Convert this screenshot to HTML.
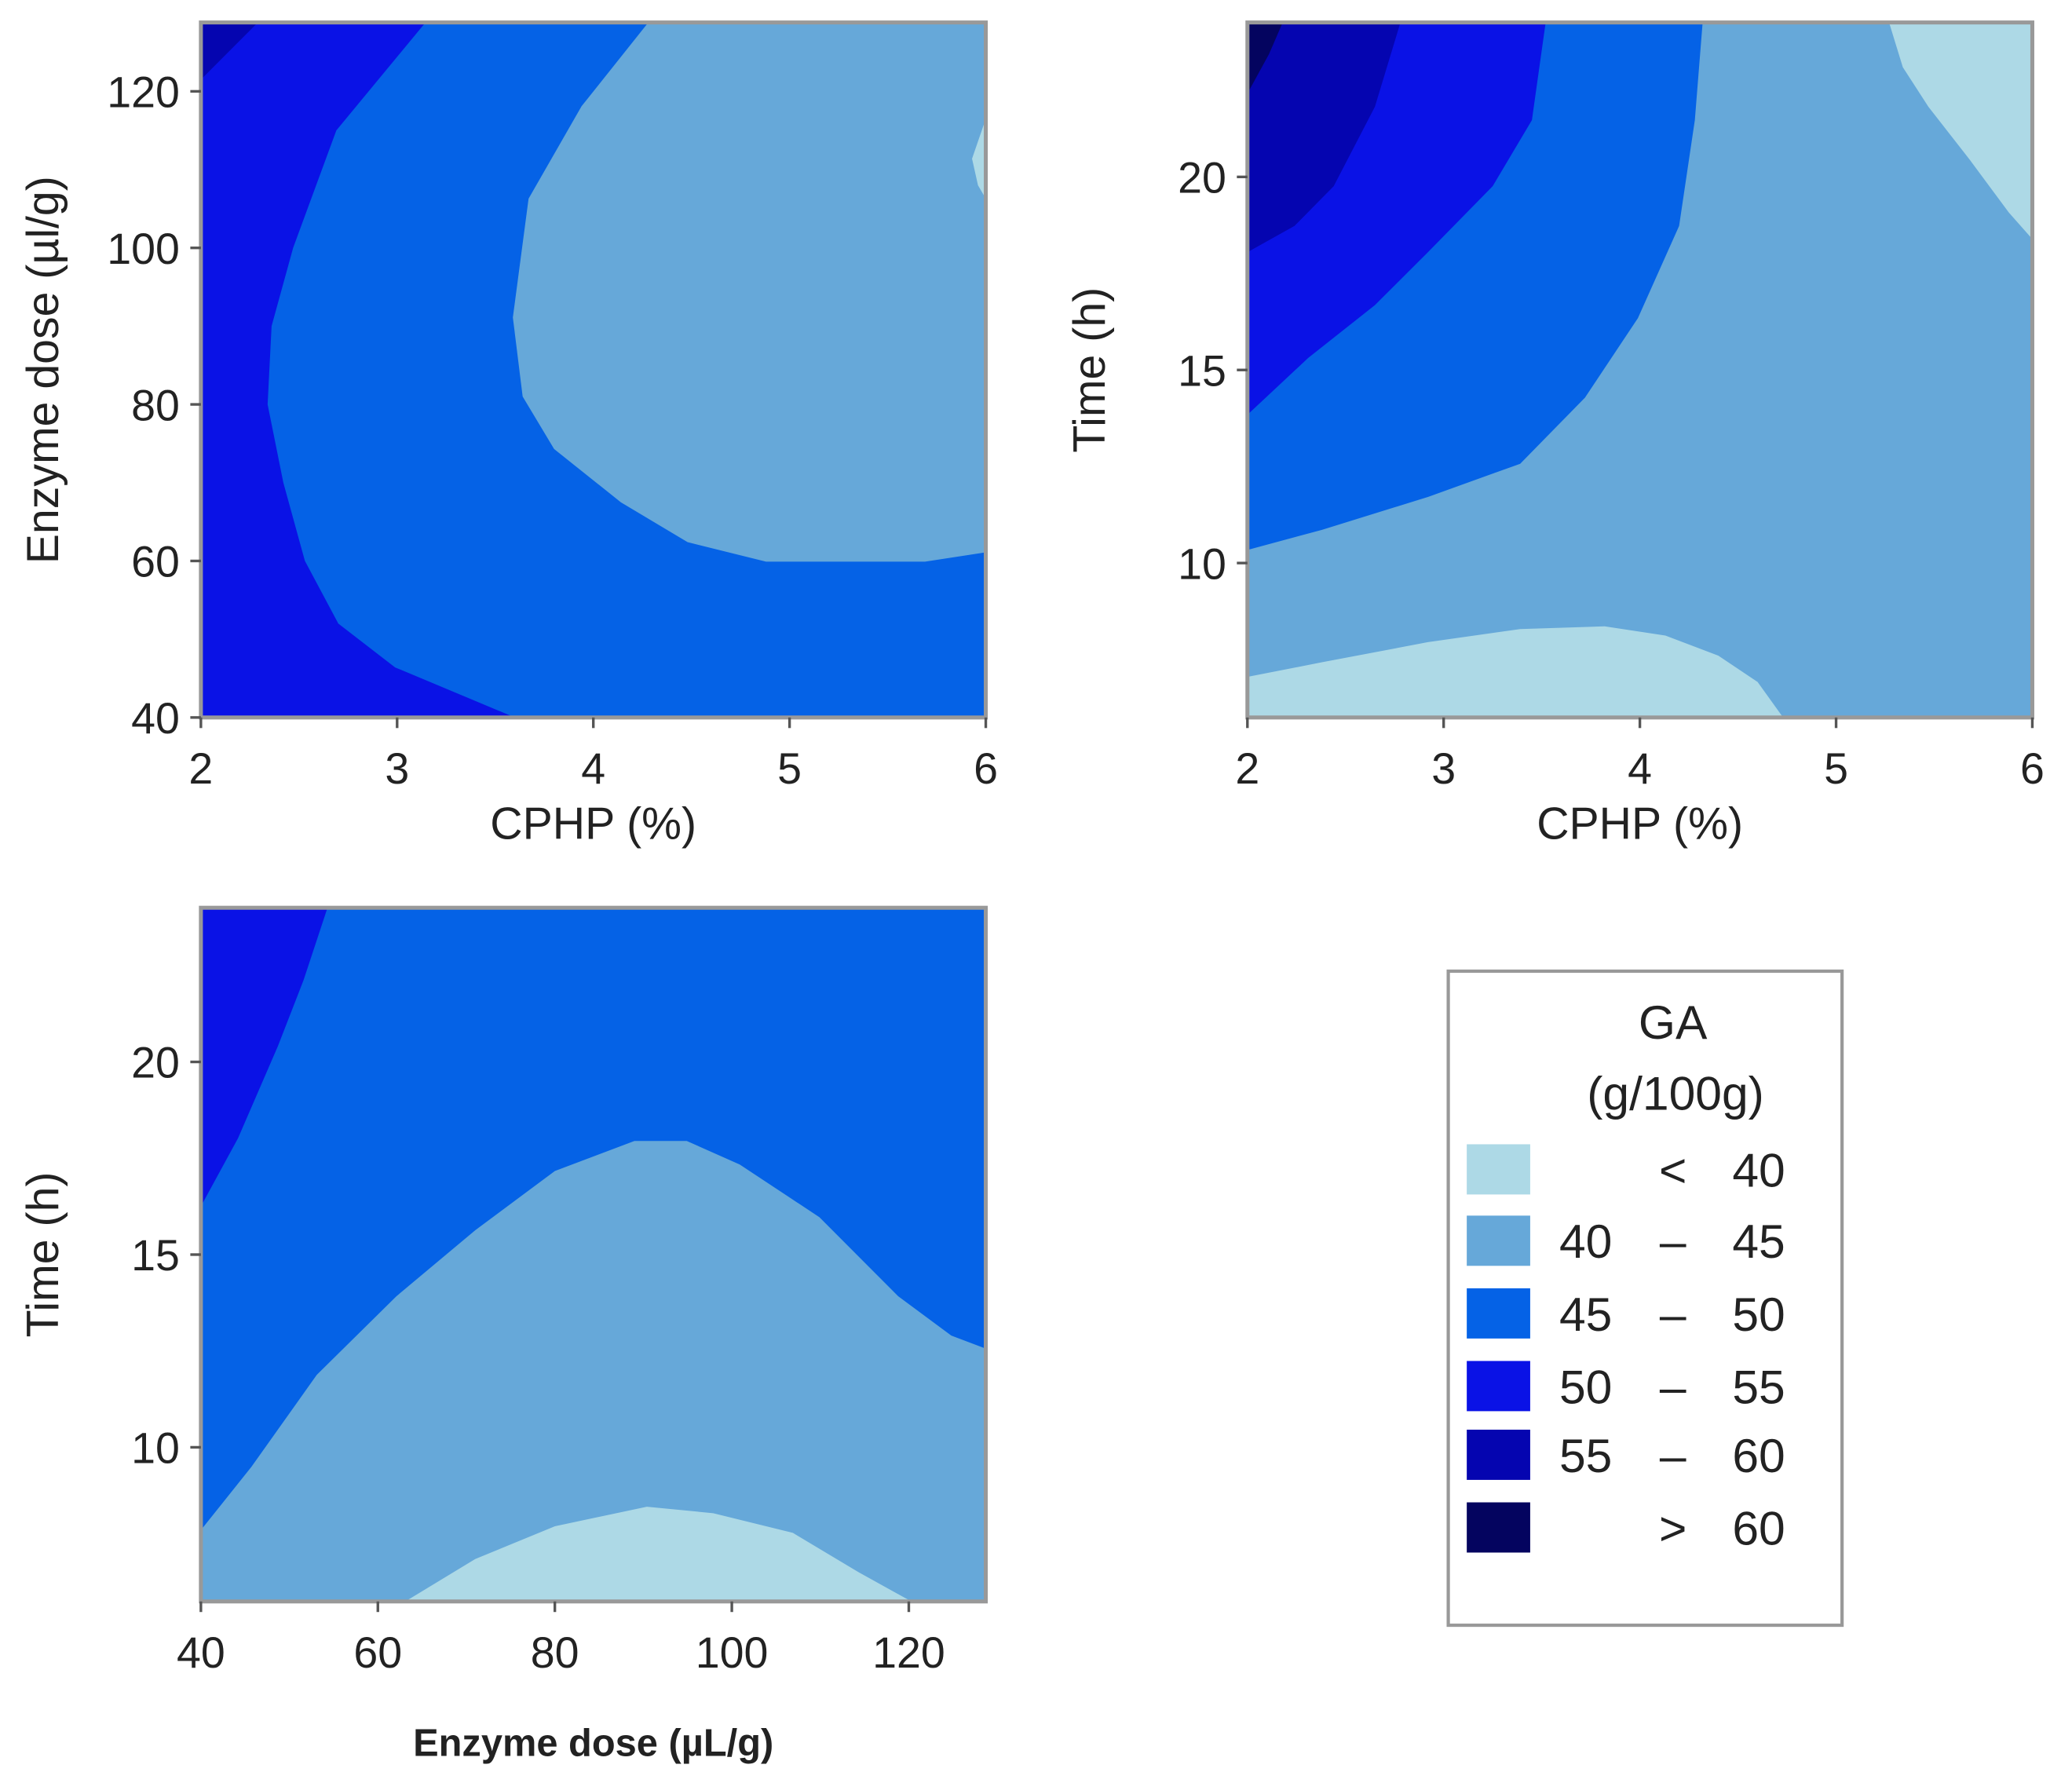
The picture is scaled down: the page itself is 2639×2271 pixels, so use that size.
<!DOCTYPE html>
<html><head><meta charset="utf-8"><style>
html,body{margin:0;padding:0;background:#fff}
svg{display:block}
text{font-family:"Liberation Sans","DejaVu Sans",sans-serif;fill:#222}
</style></head><body>
<svg id="chart" width="2639" height="2271" viewBox="0 0 1568 1349.4" xmlns="http://www.w3.org/2000/svg"></svg>
<script>
// Colors for GA levels
const levelLeft = ["","40","45","50","55",""];
const levelMid = ["<","–","–","–","–",">"];
const levelRight = ["40","45","50","55","60","60"];
const levelColors = ["#add9e6","#66a8d9","#0562e6","#0a12e6","#0505b0","#04045f"];

// Panel 1: CPHP (%) vs Enzyme dose
const p1X = [2,6], p1Y = [40,128.8];
const p1XTicks = [2,3,4,5,6], p1YTicks = [40,60,80,100,120];
const p1Lvl3 = [[2,128.8],[3.145,128.8],[2.69,115],[2.47,100],[2.36,90],[2.34,80],[2.42,70],[2.53,60],[2.7,52],[2.99,46.4],[3.6,40],[2,40]];
const p1Lvl4 = [[2,128.8],[2.29,128.8],[2,121.5]];
const p1Lvl1 = [[4.28,128.8],[3.94,118.1],[3.67,106.3],[3.59,91.1],[3.64,81],[3.8,74.3],[4.14,67.5],[4.48,62.4],[4.88,59.9],[5.69,59.9],[6,61.1],[6,128.8]];
const p1Lvl0 = [[6,116.5],[5.93,111.4],[5.96,108],[6,106.3]];

// Panel 2: CPHP (%) vs Time
const p2X = [2,6], p2Y = [6,24];
const p2XTicks = [2,3,4,5,6], p2YTicks = [10,15,20];
const p2Lvl2 = [[2,10.34],[2.38,10.86],[2.92,11.71],[3.39,12.57],[3.72,14.28],[3.99,16.34],[4.2,18.73],[4.28,21.47],[4.32,24],[2,24]];
const p2Lvl3 = [[2,13.84],[2.31,15.31],[2.65,16.68],[2.92,18.05],[3.25,19.76],[3.45,21.47],[3.52,24],[2,24]];
const p2Lvl4 = [[2,18.05],[2.24,18.73],[2.44,19.76],[2.65,21.82],[2.78,24],[2,24]];
const p2Lvl5 = [[2,22.16],[2.11,23.18],[2.18,24],[2,24]];
const p2Lvl0a = [[2,7.05],[2.38,7.43],[2.92,7.95],[3.39,8.29],[3.82,8.36],[4.13,8.12],[4.4,7.6],[4.6,6.92],[4.73,6],[2,6]];
const p2Lvl0b = [[5.27,24],[5.34,22.84],[5.47,21.82],[5.68,20.45],[5.88,19.08],[6,18.39],[6,24]];

// Panel 3: Enzyme dose vs Time
const p3X = [40,128.7], p3Y = [6,24];
const p3XTicks = [40,60,80,100,120], p3YTicks = [10,15,20];
const p3Lvl3 = [[40,16.25],[44.2,18.02],[48.7,20.41],[51.6,22.12],[54.3,24],[40,24]];
const p3Lvl1 = [[40,7.85],[45.7,9.49],[53.1,11.88],[62.1,13.92],[71,15.63],[80,17.17],[89,17.95],[94.9,17.95],[100.9,17.34],[109.9,15.97],[118.8,13.92],[124.8,12.9],[128.7,12.56],[128.7,6],[40,6]];
const p3Lvl0 = [[63.1,6],[71,7.1],[80,7.95],[90.4,8.46],[97.9,8.29],[106.9,7.78],[114.3,6.76],[120.3,6]];

const NS="http://www.w3.org/2000/svg";
const svg=document.getElementById('chart');
function el(tag,attrs,parent){const e=document.createElementNS(NS,tag);for(const k in attrs)e.setAttribute(k,attrs[k]);(parent||svg).appendChild(e);return e;}

function panel(name,box,xr,yr,xt,yt,xTitle,yTitle,bg,regions,xTitleBold){
  const g=el('g',{});
  
  
  const sx=v=>box.x0+(v-xr[0])/(xr[1]-xr[0])*(box.x1-box.x0);
  const sy=v=>box.y1-(v-yr[0])/(yr[1]-yr[0])*(box.y1-box.y0);
  const bgR=el('rect',{x:box.x0,y:box.y0,width:box.x1-box.x0,height:box.y1-box.y0,fill:levelColors[bg]},g);
  
  
  regions.forEach(([pts,lvl])=>{
    const p=el('polygon',{points:pts.map(q=>sx(q[0]).toFixed(1)+','+sy(q[1]).toFixed(1)).join(' '),fill:levelColors[lvl],'stroke-linejoin':'round'},g);
    
    
  });
  const fr=el('rect',{x:box.x0,y:box.y0,width:box.x1-box.x0,height:box.y1-box.y0,fill:'none',stroke:'#999','stroke-width':3},g);
  
  
  xt.forEach(v=>{
    el('line',{x1:sx(v),x2:sx(v),y1:box.y1,y2:box.y1+8,stroke:'#555','stroke-width':2},g);
    const t=el('text',{x:sx(v),y:box.y1+50,'text-anchor':'middle','font-size':33},g);
    t.textContent=v;
    
    
  });
  yt.forEach(v=>{
    el('line',{x1:box.x0-8,x2:box.x0,y1:sy(v),y2:sy(v),stroke:'#555','stroke-width':2},g);
    const t=el('text',{x:box.x0-16,y:sy(v)+12,'text-anchor':'end','font-size':33},g);
    t.textContent=v;
    
    
  });
  const xtEl=el('text',{x:(box.x0+box.x1)/2,y:box.y1+(xTitleBold?117:92),'text-anchor':'middle','font-size':xTitleBold?29:34,'font-weight':xTitleBold?'bold':'normal'},g);
  xtEl.textContent=xTitle;
  
  
  const cy=(box.y0+box.y1)/2, cx=box.x0-108;
  const ytEl=el('text',{x:cx,y:cy,'text-anchor':'middle','font-size':34,transform:`rotate(-90 ${cx} ${cy})`},g);
  ytEl.textContent=yTitle;
  
  
}

panel('panel-cphp-enzyme',{x0:152,x1:746,y0:17,y1:543},p1X,p1Y,p1XTicks,p1YTicks,'CPHP (%)','Enzyme dose (µl/g)',2,
  [[p1Lvl3,3],[p1Lvl4,4],[p1Lvl1,1],[p1Lvl0,0]]);
panel('panel-cphp-time',{x0:944,x1:1538,y0:17,y1:543},p2X,p2Y,p2XTicks,p2YTicks,'CPHP (%)','Time (h)',1,
  [[p2Lvl2,2],[p2Lvl3,3],[p2Lvl4,4],[p2Lvl5,5],[p2Lvl0a,0],[p2Lvl0b,0]]);
panel('panel-enzyme-time',{x0:152,x1:746,y0:687,y1:1212},p3X,p3Y,p3XTicks,p3YTicks,'Enzyme dose (µL/g)','Time (h)',2,
  [[p3Lvl3,3],[p3Lvl1,1],[p3Lvl0,0]],true);

// Legend
const lg=el('g',{});


el('rect',{x:1096,y:735,width:298,height:495,fill:'#fff',stroke:'#999','stroke-width':2.5},lg);
const t1=el('text',{x:1266,y:786,'text-anchor':'middle','font-size':36},lg);t1.textContent='GA';


const t2=el('text',{x:1268,y:840,'text-anchor':'middle','font-size':36},lg);t2.textContent='(g/100g)';


const rowsY=[866,920,975,1030,1082,1137];
levelColors.forEach((c,i)=>{
  const r=el('rect',{x:1110,y:rowsY[i],width:48,height:38,fill:c},lg);
  
  
  const ty=rowsY[i]+32;
  const a=el('text',{x:1180,y:ty,'font-size':36},lg);
  a.textContent=levelLeft[i];
  
  
  const m=el('text',{x:1266,y:ty,'text-anchor':'middle','font-size':36},lg);
  m.textContent=levelMid[i];
  
  
  const b=el('text',{x:1351,y:ty,'text-anchor':'end','font-size':36},lg);
  b.textContent=levelRight[i];
  
  
});
</script>
</body></html>
